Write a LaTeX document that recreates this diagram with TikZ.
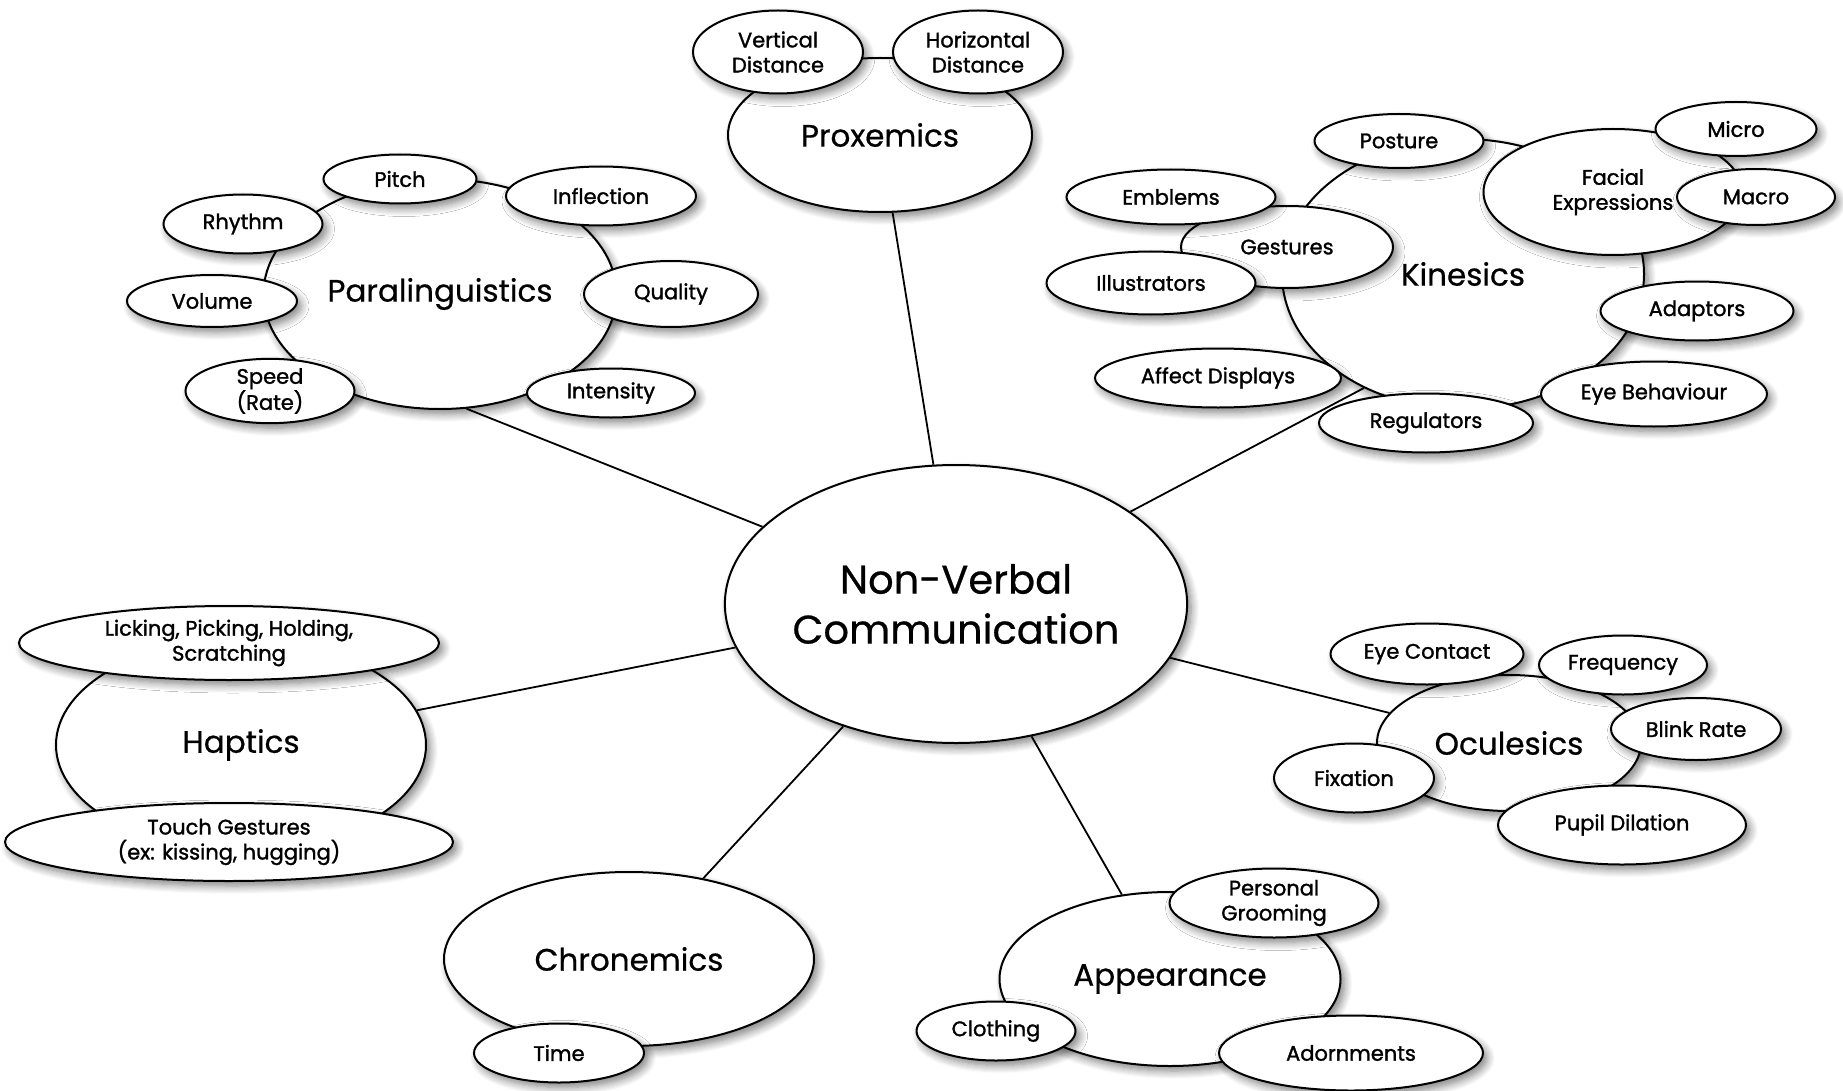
\documentclass[tikz,border=0pt]{standalone}
\usepackage{fontspec}
\setmainfont{Poppins}
\newfontfamily\labelfont{Poppins}[FakeBold=0.6]
\newfontfamily\leaffont{Poppins}[FakeBold=1.4]
\usetikzlibrary{shapes.geometric,shadows.blur,backgrounds}

\begin{document}
\begin{tikzpicture}[x=1pt,y=-1pt,
  bubble/.style={ellipse,draw,line width=2pt,fill=white,inner sep=0pt,align=center,
    blur shadow={shadow xshift=4pt,shadow yshift=-5pt,shadow blur radius=8pt,shadow blur steps=8,shadow opacity=50}},
  sz/.style 2 args={minimum width=#1,minimum height=#2},
  hub/.style={bubble,font=\labelfont\fontsize{40}{50}\selectfont},
  topic/.style={bubble,font=\labelfont\fontsize{31}{36}\selectfont},
  leaf/.style={bubble,font=\leaffont\fontsize{21}{25}\selectfont},
  link/.style={line width=1.8pt}]
\useasboundingbox (0,0) rectangle (1843,1091);

\node[hub,sz={462}{278}] (nvc) at (956,604) {Non-Verbal\\Communication};

% proxemics
\node[topic,sz={304}{154}] (prox) at (880,135) {Proxemics};
\node[leaf,sz={170}{83}] (vdist) at (778,52) {Vertical\\Distance};
\node[leaf,sz={170}{83}] (hdist) at (978,52) {Horizontal\\Distance};

% paralinguistics
\node[topic,sz={353}{230}] (para) at (440,294) {Paralinguistics};
\node[leaf,sz={153}{49}] (pitch) at (400,179) {Pitch};
\node[leaf,sz={190}{59}] (infl) at (601,196) {Inflection};
\node[leaf,sz={159}{59}] (rhythm) at (243,224) {Rhythm};
\node[leaf,sz={170}{52}] (volume) at (212,301) {Volume};
\node[leaf,sz={174}{66}] (quality) at (671,294) {Quality};
\node[leaf,sz={169}{62}] (speed) at (270,391) {Speed\\(Rate)};
\node[leaf,sz={168}{49}] (intens) at (611,393) {Intensity};

% kinesics
\node[topic,sz={362}{270}] (kin) at (1463,274) {Kinesics};
\node[leaf,sz={259}{126}] (facial) at (1613,192) {Facial\\Expressions};
\node[leaf,sz={161}{54}] (micro) at (1736,129) {Micro};
\node[leaf,sz={158}{56}] (macro) at (1756,197) {Macro};
\node[leaf,sz={169}{54}] (posture) at (1399,141) {Posture};
\node[leaf,sz={212}{82}] (gest) at (1287,247) {Gestures};
\node[leaf,sz={209}{55}] (emblems) at (1171,197) {Emblems};
\node[leaf,sz={209}{63}] (illus) at (1151,283) {Illustrators};
\node[leaf,sz={193}{59}] (adapt) at (1697,311) {Adaptors};
\node[leaf,sz={246}{59}] (affect) at (1218,378) {Affect Displays};
\node[leaf,sz={214}{59}] (regul) at (1426,423) {Regulators};
\node[leaf,sz={226}{65}] (eyebeh) at (1654,394) {Eye Behaviour};

% haptics
\node[topic,sz={370}{212}] (hap) at (241,745) {Haptics};
\node[leaf,sz={420}{74}] (lick) at (229,643) {Licking, Picking, Holding,\\Scratching};
\node[leaf,sz={448}{78}] (touch) at (229,842) {Touch Gestures\\(ex: kissing, hugging)};

% oculesics
\node[topic,sz={264}{136}] (ocu) at (1509,743) {Oculesics};
\node[leaf,sz={193}{61}] (eyecon) at (1427,654) {Eye Contact};
\node[leaf,sz={168}{59}] (freq) at (1623,665) {Frequency};
\node[leaf,sz={170}{62}] (blink) at (1696,729) {Blink Rate};
\node[leaf,sz={160}{69}] (fix) at (1354,778) {Fixation};
\node[leaf,sz={248}{79}] (pupil) at (1622,825) {Pupil Dilation};

% chronemics
\node[topic,sz={370}{174}] (chron) at (629,959) {Chronemics};
\node[leaf,sz={170}{59}] (time) at (559,1053) {Time};

% appearance
\node[topic,sz={341}{174}] (appear) at (1170,979) {Appearance};
\node[leaf,sz={209}{69}] (groom) at (1274,903) {Personal\\Grooming};
\node[leaf,sz={159}{59}] (cloth) at (996,1031) {Clothing};
\node[leaf,sz={264}{75}] (adorn) at (1351,1053) {Adornments};

\begin{scope}[on background layer]
\draw[link] (nvc) -- (prox);
\draw[link] (nvc) -- (para.283);
\draw[link] (nvc) -- (kin.229);
\draw[link] (nvc) -- (hap);
\draw[link] (nvc) -- (ocu);
\draw[link] (nvc) -- (chron);
\draw[link] (nvc) -- (appear);
\end{scope}
\end{tikzpicture}
\end{document}
